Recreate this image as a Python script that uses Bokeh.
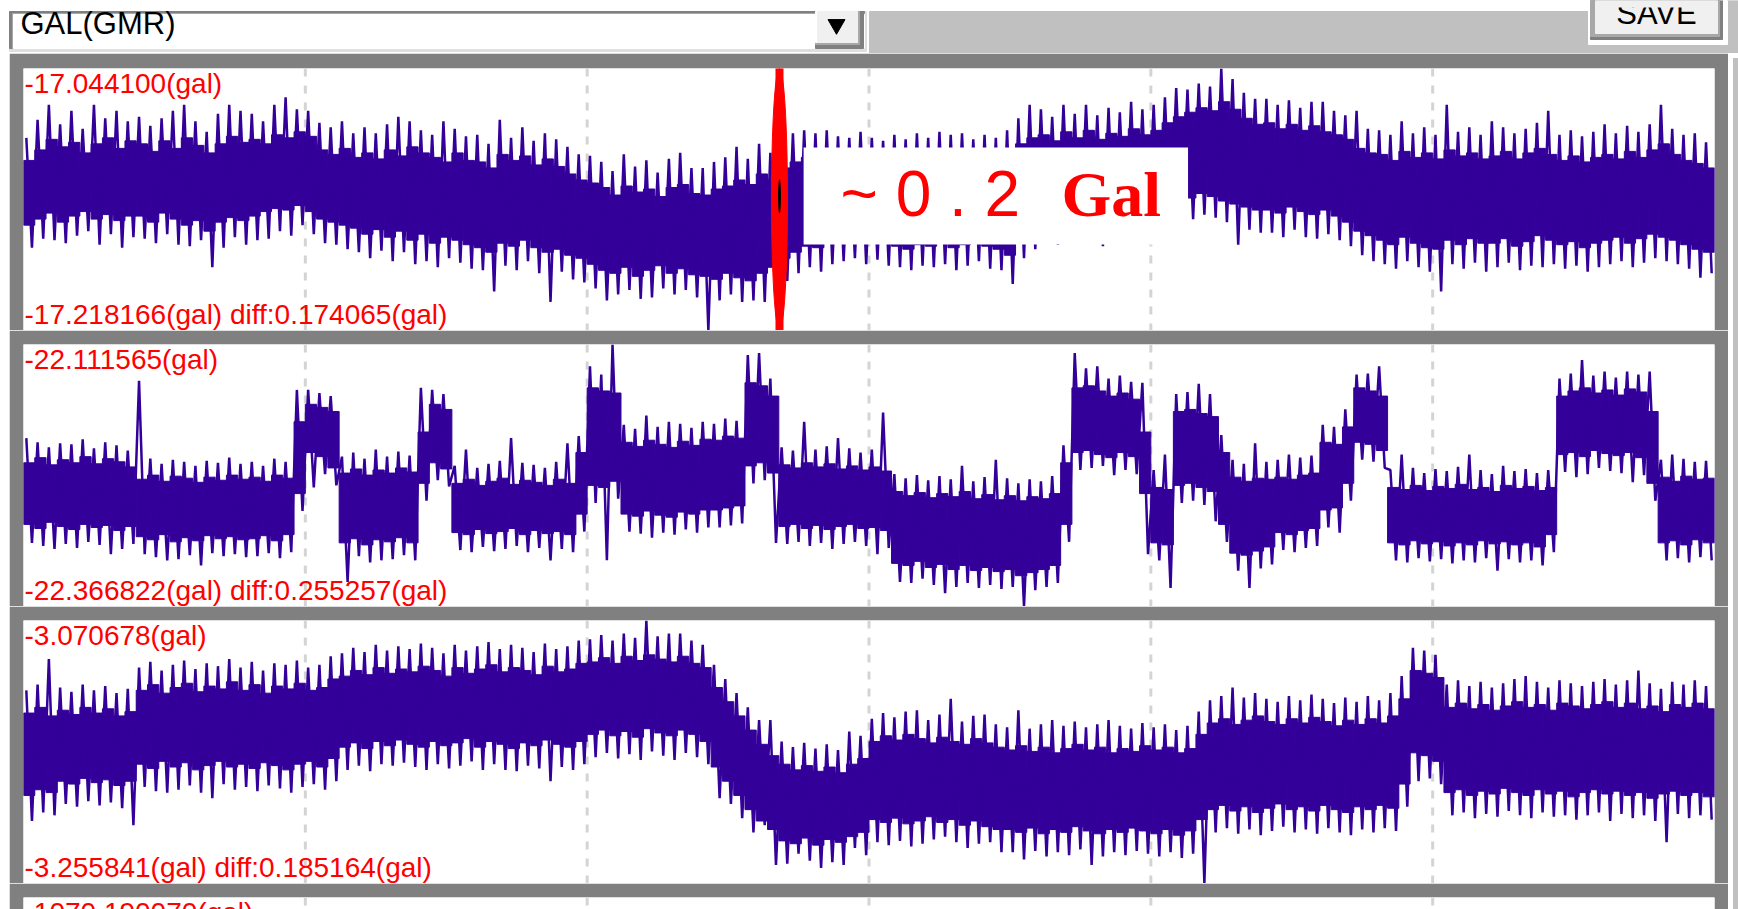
from bokeh.plotting import figure
from bokeh.models import Range1d, Span, Label, BoxAnnotation, Div, Spacer
from bokeh.layouts import column, row
from bokeh.embed import file_html
from bokeh.resources import INLINE

# ---- data -------------------------------------------------------------
channel = "GAL(GMR)"
maxima = [-17.044100, -22.111565, -3.070678]
minima = [-17.218166, -22.366822, -3.255841]
diffs = [0.174065, 0.255257, 0.185164]
next_trace_max = -1070.190070

n_bins = 150
grid_ticks = [25, 50, 75, 100, 125]

# Every trace is kept per bin, in mGal above the trace minimum:
#   *_core_hi / *_core_lo : the dense part of the record
#   *_top / *_bottom      : the extreme excursions inside the bin
trace1_core_hi = [
    113, 120, 127, 122, 125, 118, 124, 128, 121, 126, 124, 119, 126, 121, 128, 123, 118, 124, 129, 125,
    127, 124, 130, 128, 132, 129, 120, 117, 121, 115, 118, 114, 120, 116, 122, 118, 115, 112, 118, 113,
    112, 108, 117, 113, 116, 110, 114, 109, 104, 100, 98, 95, 90, 96, 92, 94, 89, 95, 97, 91,
    90, 94, 96, 100, 97, 104, 100, 108, 112, 115, 113, 117, 114, 112, 116, 113, 110, 114, 112, 115,
    112, 116, 113, 115, 111, 114, 112, 116, 124, 128, 130, 126, 132, 128, 133, 127, 131, 129, 134, 130,
    133, 138, 142, 145, 148, 146, 152, 147, 141, 137, 138, 134, 137, 133, 136, 132, 130, 127, 121, 118,
    117, 113, 119, 115, 118, 114, 120, 116, 118, 114, 116, 119, 114, 118, 121, 117, 113, 116, 112, 115,
    117, 114, 119, 115, 120, 124, 117, 113, 111, 108]
trace1_core_lo = [
    70, 74, 78, 72, 76, 79, 74, 77, 73, 76, 76, 72, 78, 74, 70, 73, 66, 72, 75, 73,
    76, 79, 81, 80, 83, 79, 74, 72, 70, 68, 64, 67, 62, 66, 60, 64, 58, 62, 60, 57,
    55, 52, 58, 56, 60, 55, 52, 54, 50, 48, 44, 40, 38, 42, 36, 40, 43, 38, 41, 37,
    36, 34, 38, 35, 33, 38, 42, 48, 52, 56, 55, 58, 60, 62, 59, 61, 58, 56, 54, 57,
    56, 58, 55, 57, 60, 56, 54, 50, 62, 68, 74, 72, 76, 73, 75, 71, 74, 77, 75, 73,
    78, 82, 86, 88, 91, 89, 86, 84, 82, 80, 80, 78, 82, 79, 77, 80, 76, 72, 66, 63,
    60, 57, 62, 58, 55, 54, 60, 57, 61, 58, 58, 61, 56, 59, 63, 60, 57, 59, 55, 58,
    60, 62, 58, 61, 64, 62, 60, 57, 54, 52]
trace1_top = [
    128, 140, 150, 137, 146, 134, 150, 141, 146, 139, 142, 136, 141, 146, 150, 139, 132, 144, 150, 146,
    144, 139, 150, 155, 147, 146, 138, 135, 139, 131, 135, 131, 137, 142, 139, 133, 130, 139, 134, 129,
    130, 124, 140, 128, 135, 126, 131, 127, 122, 117, 116, 112, 106, 117, 109, 113, 105, 114, 118, 108,
    108, 112, 115, 122, 114, 124, 118, 128, 131, 133, 131, 133, 129, 128, 132, 128, 126, 130, 127, 131,
    128, 132, 130, 131, 127, 130, 128, 133, 141, 150, 147, 142, 150, 144, 150, 143, 148, 145, 152, 147,
    150, 155, 161, 160, 164, 162, 174.066, 167, 158, 154, 154, 150, 153, 148, 152, 152, 146, 143, 146, 134,
    133, 130, 139, 131, 135, 130, 150, 132, 135, 130, 139, 135, 131, 134, 138, 146, 130, 133, 129, 132,
    137, 131, 136, 132, 137, 150, 134, 130, 131, 125]
trace1_bottom = [
    55, 61, 60, 58, 63, 66, 57, 64, 55, 62, 61, 58, 64, 57, 56, 60, 42, 55, 62, 57,
    60, 61, 66, 63, 70, 64, 58, 57, 54, 52, 48, 53, 46, 52, 44, 46, 42, 48, 45, 41,
    40, 26, 43, 40, 46, 38, 19, 39, 34, 32, 28, 20, 24, 27, 21, 22, 28, 24, 27, 22,
    0, 20, 24, 19, 20, 19, 27, 33, 38, 42, 39, 44, 46, 48, 44, 47, 43, 42, 40, 43,
    42, 44, 40, 43, 46, 41, 40, 31, 48, 54, 60, 57, 62, 58, 61, 56, 59, 63, 60, 58,
    63, 68, 72, 74, 77, 75, 72, 57, 67, 65, 65, 62, 67, 62, 61, 64, 60, 56, 50, 46,
    44, 41, 46, 42, 39, 26, 44, 41, 45, 39, 42, 45, 40, 43, 42, 44, 41, 43, 39, 42,
    44, 46, 42, 45, 48, 46, 44, 41, 35, 38]

trace2_core_hi = [
    140, 145, 138, 143, 140, 146, 139, 144, 141, 136, 124, 128, 122, 127, 125, 121, 126, 123, 128, 124,
    126, 122, 128, 125, 180, 197, 194, 190, 130, 134, 128, 133, 130, 135, 131, 170, 197, 192,
    120, 124, 118, 122, 125, 119, 123, 121, 118, 124, 120, 150, 213, 210, 208,
    160, 156, 162, 158, 155, 161, 157, 163, 162, 166, 164, 218, 215, 205,
    138, 135, 140, 136, 139, 134, 137, 133, 136, 132,
    112, 108, 111, 106, 110, 107, 112, 105, 109, 104, 108, 103, 107, 105, 110, 140,
    213, 215, 210, 205, 208, 202, 170, 116, 114, 190, 192, 188, 185, 150,
    126, 122, 125, 124, 126, 124, 128, 130, 160, 158, 175, 213, 210, 205,
    116, 114, 118, 113, 117, 115, 119, 114, 116, 112, 118, 115, 117, 113, 116,
    205, 210, 213, 208, 211, 206, 212, 209, 190, 126, 122, 127, 124, 125]
trace2_core_lo = [
    80, 76, 82, 78, 75, 80, 77, 79, 74, 78, 68, 65, 70, 63, 67, 64, 69, 66, 68, 65,
    66, 69, 64, 70, 110, 150, 146, 135, 62, 66, 60, 65, 63, 67, 62, 120, 140, 134,
    72, 70, 75, 71, 73, 76, 70, 74, 71, 73, 70, 90, 118, 116, 122,
    90, 88, 93, 89, 87, 92, 90, 94, 94, 96, 98, 137, 140, 130,
    78, 80, 76, 79, 75, 78, 80, 76, 77, 74,
    42, 40, 44, 38, 41, 36, 40, 35, 38, 34, 36, 30, 33, 36, 40, 80,
    150, 152, 148, 145, 150, 146, 110, 62, 60, 118, 120, 116, 112, 80,
    52, 50, 54, 58, 72, 70, 74, 76, 94, 96, 120, 160, 158, 152,
    62, 60, 64, 61, 63, 59, 62, 60, 64, 61, 63, 60, 62, 58, 70,
    148, 150, 146, 152, 149, 147, 150, 145, 120, 62, 64, 60, 65, 62]
trace2_top = [
    164, 160, 155, 159, 158, 163, 154, 160, 157, 152, 220, 144, 139, 143, 141, 137, 142, 140, 145, 139,
    141, 137, 144, 141, 211, 211, 208, 205, 146, 150, 144, 153, 146, 151, 147, 213, 211, 207,
    137, 153, 135, 139, 142, 164, 140, 138, 135, 141, 159, 166, 234, 226, 255.257,
    177, 173, 186, 175, 180, 178, 174, 180, 178, 183, 181, 245, 247, 222,
    155, 152, 180, 153, 156, 164, 154, 150, 153, 189,
    129, 125, 128, 123, 127, 124, 137, 122, 126, 143, 125, 120, 124, 122, 127, 157,
    247, 232, 234, 222, 225, 219, 218, 133, 148, 207, 209, 217, 207, 167,
    143, 139, 159, 141, 143, 148, 145, 147, 177, 175, 192, 226, 227, 234,
    133, 148, 135, 130, 134, 132, 136, 148, 133, 129, 137, 132, 134, 130, 133,
    222, 227, 240, 225, 229, 223, 229, 226, 229, 143, 148, 144, 141, 142]
trace2_bottom = [
    62, 59, 56, 61, 57, 63, 60, 51, 56, 61, 51, 48, 45, 46, 50, 40, 52, 49, 51, 48,
    49, 52, 47, 53, 93, 116, 129, 118, 24, 49, 43, 45, 46, 50, 45, 103, 123, 117,
    55, 53, 58, 54, 56, 59, 53, 57, 45, 56, 53, 73, 101, 45, 105,
    73, 71, 67, 72, 70, 75, 72, 77, 77, 79, 81, 120, 123, 62,
    61, 63, 59, 62, 56, 61, 63, 59, 51, 57,
    24, 23, 27, 21, 13, 19, 23, 18, 21, 17, 19, 0, 16, 19, 23, 63,
    133, 135, 137, 128, 133, 129, 51, 45, 18, 101, 103, 99, 83, 63,
    35, 18, 37, 41, 55, 53, 57, 59, 77, 72, 103, 143, 141, 135,
    45, 43, 47, 44, 46, 42, 45, 43, 47, 35, 46, 43, 45, 40, 53,
    131, 126, 129, 135, 132, 130, 121, 128, 103, 45, 47, 43, 48, 45]

trace3_core_hi = [
    120, 124, 118, 122, 119, 124, 120, 123, 118, 121,
    136, 140, 134, 138, 141, 135, 139, 137, 142, 136, 140, 134, 139, 137, 141, 136, 138, 144,
    146, 150, 147, 152, 148, 151, 149, 153, 150, 146, 152, 148, 151, 154, 149, 152, 150, 147,
    153, 149, 151, 155, 156, 159, 155, 160, 157, 161, 158, 156, 160, 155, 152,
    138, 128, 118, 108, 98, 90, 84, 80, 83, 79, 82, 78, 84, 88,
    100, 104, 101, 105, 102, 99, 103, 100, 98, 102, 99, 96,
    94, 97, 93, 96, 92, 95, 98, 94, 96, 92, 95, 93, 97, 94, 96, 92, 95, 105,
    113, 116, 112, 115, 118, 114, 112, 116, 113, 117, 114, 111, 115, 112, 116, 113, 118, 130,
    150, 148, 145,
    124, 127, 123, 126, 122, 125, 128, 124, 126, 122, 127, 125, 123, 126, 128, 124, 127, 123,
    125, 121, 126, 124, 127, 123]
trace3_core_lo = [
    62, 66, 64, 72, 70, 74, 71, 73, 69, 72,
    84, 81, 86, 82, 85, 80, 83, 86, 82, 84, 81, 85, 83, 80, 84, 86, 82, 88,
    96, 99, 95, 100, 97, 101, 98, 96, 100, 97, 99, 102, 96, 100, 98, 95, 99, 97,
    101, 98, 96, 100, 105, 108, 104, 107, 103, 109, 106, 104, 108, 105, 100,
    82, 72, 62, 52, 44, 38, 30, 28, 32, 27, 31, 29, 33, 36,
    45, 43, 46, 42, 44, 47, 43, 45, 41, 44, 40, 38,
    38, 36, 39, 35, 38, 36, 40, 37, 35, 38, 36, 39, 37, 35, 38, 34, 37, 45,
    52, 55, 51, 54, 50, 53, 56, 52, 54, 51, 55, 52, 50, 54, 52, 55, 53, 70,
    92, 90, 86,
    64, 66, 62, 65, 63, 67, 64, 62, 66, 63, 65, 61, 64, 66, 63, 65, 62, 64,
    60, 63, 65, 62, 64, 61]
trace3_top = [
    136, 140, 158, 138, 135, 140, 136, 139, 134, 137,
    152, 156, 150, 154, 157, 151, 155, 153, 158, 152, 156, 150, 155, 154, 157, 152, 154, 160,
    162, 166, 163, 168, 164, 167, 165, 169, 166, 162, 168, 164, 167, 170, 165, 168, 166, 163,
    169, 165, 167, 171, 172, 175, 171, 176, 173, 185.163, 174, 176, 176, 171, 168,
    154, 144, 134, 124, 115, 115, 100, 96, 99, 95, 98, 94, 107, 104,
    116, 120, 117, 121, 122, 115, 119, 130, 114, 118, 119, 112,
    110, 122, 109, 112, 115, 111, 114, 110, 112, 115, 111, 109, 113, 110, 112, 108, 111, 121,
    129, 132, 138, 131, 134, 130, 128, 132, 129, 133, 130, 127, 131, 128, 132, 129, 134, 146,
    166, 164, 161,
    140, 143, 139, 142, 138, 141, 144, 146, 142, 138, 143, 141, 139, 142, 144, 140, 143, 150,
    141, 137, 142, 140, 143, 139]
trace3_bottom = [
    44, 50, 48, 56, 54, 58, 55, 57, 53, 41,
    68, 65, 64, 66, 69, 64, 60, 70, 66, 68, 65, 69, 67, 64, 68, 70, 66, 72,
    80, 83, 79, 84, 83, 85, 82, 80, 84, 81, 83, 86, 80, 84, 80, 79, 83, 81,
    72, 82, 80, 84, 89, 92, 88, 91, 87, 93, 90, 87, 92, 89, 84,
    60, 56, 46, 36, 41, 13, 14, 21, 16, 11, 15, 13, 25, 20,
    29, 27, 30, 26, 28, 31, 33, 29, 25, 28, 29, 22,
    22, 17, 23, 19, 22, 20, 24, 13, 19, 22, 20, 23, 21, 19, 22, 18, 21, 0,
    36, 39, 35, 38, 34, 37, 40, 36, 38, 35, 39, 36, 34, 38, 36, 39, 37, 54,
    72, 74, 70,
    48, 50, 46, 49, 47, 51, 48, 46, 50, 47, 48, 45, 48, 50, 44, 49, 46, 48,
    44, 29, 49, 46, 48, 45]

cores_hi = [trace1_core_hi, trace2_core_hi, trace3_core_hi]
cores_lo = [trace1_core_lo, trace2_core_lo, trace3_core_lo]
tops = [trace1_top, trace2_top, trace3_top]
bottoms = [trace1_bottom, trace2_bottom, trace3_bottom]

# ---- styling -------------------------------------------------------------
SIGNAL = "#330099"
FRAME = "#808080"
PANEL_GREY = "#c0c0c0"
FACE = "#f0f0f0"
GRID = "#d4d4d4"
RED = "#ff0000"
FONT = "Liberation Sans"


def base_fig(width, height, x_range, y_range, **kw):
    p = figure(width=width, height=height, x_range=x_range, y_range=y_range,
               toolbar_location=None, output_backend="svg", title=None,
               x_axis_location=None, y_axis_location=None,
               outline_line_color=None, **kw)
    p.grid.visible = False
    return p


# ---- header: channel selector and save button ---------------------------
hdr = base_fig(1738, 53, Range1d(0, 1738), Range1d(53, 0),
               min_border=0, background_fill_color="white",
               border_fill_color="white")
hdr.quad(left=869, right=1738, top=11, bottom=53, color=PANEL_GREY)
hdr.quad(left=1727, right=1738, top=0, bottom=11, color=PANEL_GREY)
# combo box
hdr.quad(left=9, right=866, top=11, bottom=51, color="#dfdfdf")
hdr.quad(left=9, right=864, top=11, bottom=48, color=FRAME)
hdr.quad(left=12, right=864, top=13, bottom=48, color="#a8a8a8")
hdr.quad(left=13, right=864, top=14, bottom=48, color="white")
hdr.add_layout(Label(x=20, y=40, text=channel, text_font=FONT,
                     text_font_size="31px", text_color="black"))
# drop-down button
hdr.quad(left=815, right=863, top=11, bottom=48, color=FRAME)
hdr.quad(left=815, right=859, top=11, bottom=44, color="#a8a8a8")
hdr.quad(left=815, right=857, top=11, bottom=42, color="white")
hdr.quad(left=817, right=857, top=11, bottom=42, color=FACE)
hdr.scatter(x=[836], y=[24], marker="inverted_triangle", size=17,
            color="black")
# save button
hdr.quad(left=1588, right=1727, top=0, bottom=44, color="white")
hdr.quad(left=1590, right=1722, top=0, bottom=39, color=FRAME)
hdr.quad(left=1590, right=1719, top=0, bottom=36, color="#a8a8a8")
hdr.quad(left=1595, right=1717, top=0, bottom=33, color=FACE)
hdr.add_layout(Label(x=1656, y=30, text="SAVE", text_font=FONT,
                     text_font_size="31px", text_color="black",
                     text_align="center"))
hdr.add_layout(BoxAnnotation(left=1595, right=1717, top=0, bottom=7,
                             fill_color=FACE, fill_alpha=1.0, line_color=None))


# ---- trace panels -------------------------------------------------------
def add_grid(p):
    for t in grid_ticks:
        p.add_layout(Span(location=t, dimension="height", line_color=GRID,
                          line_width=3, line_dash="8 9", level="underlay"))


def trace_panel(i, height, top_border):
    p = base_fig(1719, height, Range1d(0, n_bins),
                 Range1d(minima[i], maxima[i]),
                 min_border_left=14, min_border_right=14,
                 min_border_top=top_border, min_border_bottom=0,
                 background_fill_color="white", border_fill_color=FRAME)
    add_grid(p)
    base = minima[i]
    left = list(range(n_bins))
    right = [k + 1 for k in left]
    # dense band
    p.quad(left=left, right=right,
           top=[base + v / 1000 for v in cores_hi[i]],
           bottom=[base + v / 1000 for v in cores_lo[i]],
           fill_color=SIGNAL, line_color=SIGNAL, line_width=1)
    # the record swings between the extremes of every bin
    xs, ys = [], []
    for k in range(n_bins):
        xs += [k + 0.25, k + 0.75]
        ys += [base + tops[i][k] / 1000, base + bottoms[i][k] / 1000]
    p.line(x=xs, y=ys, line_color=SIGNAL, line_width=2.5, line_join="bevel")
    p.add_layout(Label(x=0, y=maxima[i], x_offset=1, y_offset=-30,
                       text=f"{maxima[i]:.6f}(gal)", text_color=RED,
                       text_font=FONT, text_font_size="28px"))
    p.add_layout(Label(x=0, y=minima[i], x_offset=1, y_offset=1,
                       text=f"{minima[i]:.6f}(gal) diff:{diffs[i]:.6f}(gal)",
                       text_color=RED, text_font=FONT, text_font_size="28px"))
    return p


p1 = trace_panel(0, 277, 15)
p2 = trace_panel(1, 276, 14)
p3 = trace_panel(2, 277, 14)

# marker and note on the first trace
mark_x = 67.06
p1.segment(x0=[mark_x], y0=[minima[0]], x1=[mark_x], y1=[maxima[0]],
           line_color=RED, line_width=8, line_cap="round")
p1.ellipse(x=[mark_x], y=[(minima[0] + maxima[0]) / 2], width=16,
           height=maxima[0] - minima[0], width_units="screen",
           fill_color=RED, line_color=RED)
p1.ellipse(x=[mark_x], y=[-17.129], width=3, height=0.023,
           width_units="screen", fill_color="black", line_color=None)
p1.add_layout(BoxAnnotation(left=69.2, right=103.3, top=-17.0966,
                            bottom=-17.161, fill_color="white",
                            fill_alpha=1.0, line_color=None))
p1.add_layout(Label(x=72.47, y=-17.1517, text="~ 0 . 2", text_color=RED,
                    text_font=FONT, text_font_size="64px"))
p1.add_layout(Label(x=92.08, y=-17.1517, text="Gal", text_color=RED,
                    text_font="Liberation Serif", text_font_style="bold",
                    text_font_size="64px"))

# top edge of the next trace
p4 = base_fig(1719, 26, Range1d(0, n_bins), Range1d(0, 1),
              min_border_left=14, min_border_right=14, min_border_top=14,
              min_border_bottom=0, background_fill_color="white",
              border_fill_color=FRAME)
add_grid(p4)
p4.add_layout(Label(x=0, y=1, x_offset=1, y_offset=-30,
                    text=f"{next_trace_max:.6f}(gal)", text_color=RED,
                    text_font=FONT, text_font_size="28px"))

body = row(Spacer(width=9, height=856),
           column(p1, p2, p3, p4),
           Div(text="", width=10, height=856,
               styles={"background-color": PANEL_GREY}))
layout = column(hdr, body)

open("out.html", "w").write(file_html(layout, INLINE))
